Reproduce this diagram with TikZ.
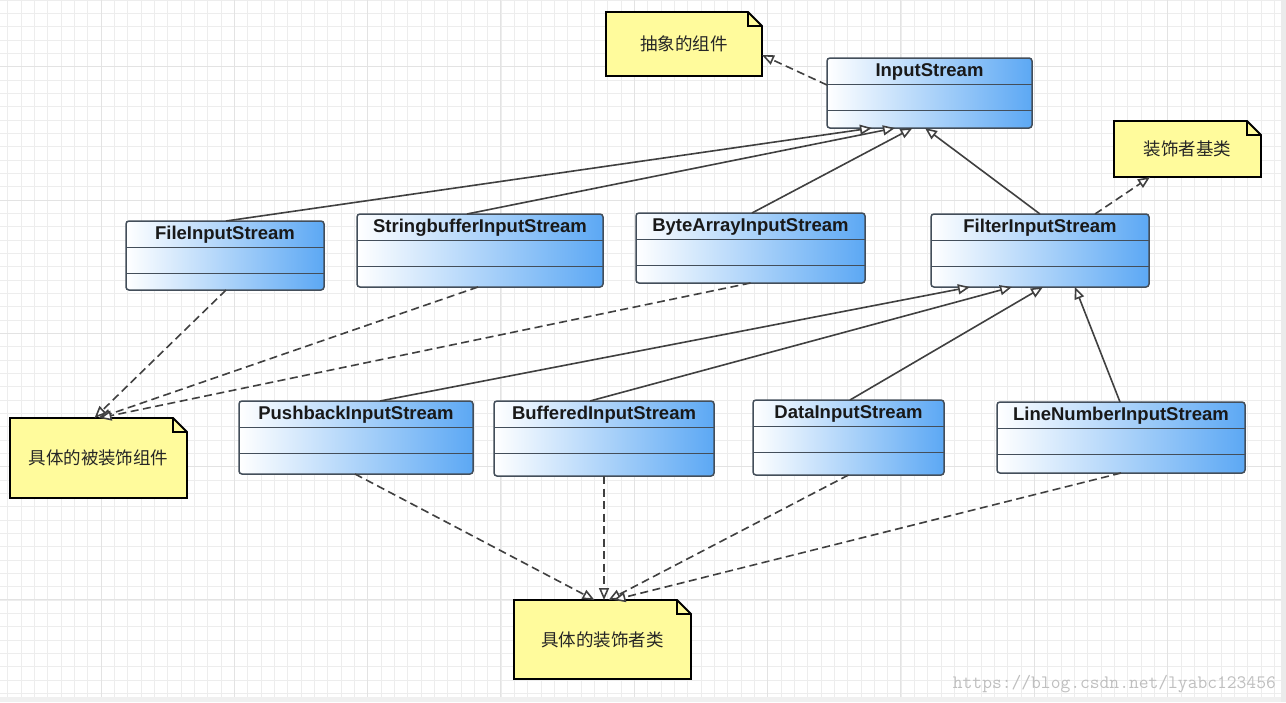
\documentclass[tikz,border=0pt]{standalone}
\usepackage{fontspec}
\setmainfont{Liberation Sans}
\newfontfamily\cjk{Noto Sans CJK SC}
\usetikzlibrary{arrows.meta,calc}

\pgfdeclarelayer{gridlayer}
\pgfdeclarelayer{notelayer}
\pgfsetlayers{gridlayer,notelayer,main}

\definecolor{umlblue}{HTML}{5CA8F4}
\definecolor{umledge}{HTML}{434E5A}
\definecolor{notefill}{HTML}{FFFB9C}
\definecolor{linkgray}{HTML}{404040}
\definecolor{gridminor}{HTML}{EDEDED}
\definecolor{gridmajor}{HTML}{E3E3E3}

\tikzset{
  umlbox/.style={draw=umledge, line width=1.5pt, rounded corners=3pt,
    left color=white, right color=umlblue, inner sep=0pt, outer sep=0pt},
  umlname/.style={font=\fontsize{18.5}{20}\selectfont\bfseries, text=black!90, inner sep=0pt},
  umlsep/.style={draw=umledge, line width=1.4pt},
  notebox/.style={inner sep=0pt, outer sep=0pt, font=\cjk\fontsize{17.5}{20}\selectfont, text=black!85},
  noteline/.style={draw=black, line width=1.8pt, fill=notefill, line join=miter},
  inherit/.style={draw=linkgray, line width=1.6pt,
    -{Triangle[open, length=12pt, width=10pt, fill=white]}},
  realize/.style={inherit, dash pattern=on 8pt off 4.5pt},
  gridthin/.style={draw=gridminor, line width=0.8pt},
  gridthick/.style={draw=gridmajor, line width=1pt},
}

% class box: name, left, top, right, bottom, label
\newcommand{\umlclass}[6]{%
  \node[umlbox, minimum width={(#4)-(#2)}, minimum height={(#5)-(#3)}]
    (#1) at ({((#2)+(#4))/2},{((#3)+(#5))/2}) {};
  \node[umlname] (#1-name) at ([yshift=-13.5pt]#1.north) {#6};
  \draw[umlsep] ([yshift=-26.5pt]#1.north west) -- ([yshift=-26.5pt]#1.north east);
  \draw[umlsep] ([yshift=-52.5pt]#1.north west) -- ([yshift=-52.5pt]#1.north east);
}

% note with folded corner: name, left, top, right, bottom, text
\newcommand{\umlnote}[6]{%
  \node[notebox, minimum width={(#4)-(#2)}, minimum height={(#5)-(#3)}]
    (#1) at ({((#2)+(#4))/2},{((#3)+(#5))/2}) {#6};
  \begin{pgfonlayer}{notelayer}
    \draw[noteline] (#1.south west) -- (#1.north west) -- ([xshift=-14pt]#1.north east)
      -- ([yshift=-14pt]#1.north east) -- (#1.south east) -- cycle;
    \draw[noteline, fill=none] ([xshift=-14pt]#1.north east) |- ([yshift=-14pt]#1.north east);
  \end{pgfonlayer}
}

\begin{document}
\begin{tikzpicture}[x=1pt, y=-1pt]
\useasboundingbox (0,0) rectangle (1286,702);

% squared paper background
\begin{pgfonlayer}{gridlayer}
  \fill[white] (0,0) rectangle (1286,702);
  \foreach \i in {0,...,95} { \draw[gridthin] ({7.7+13.333*\i},0) -- ++(0,702); }
  \foreach \j in {0,...,52} { \draw[gridthin] (0,{13.333*\j}) -- ++(1286,0); }
  \foreach \i in {0,...,9} { \draw[gridthick] ({101+133.33*\i},0) -- ++(0,702); }
  \foreach \j in {0,...,4} { \draw[gridthick] (0,{66.67+133.33*\j}) -- ++(1286,0); }
  \fill[black!8] (1281,0) rectangle (1286,702);
  \fill[black!6] (0,697) rectangle (1281,702);
\end{pgfonlayer}

% classes
\umlclass{input}{827}{58}{1032}{128}{InputStream}
\umlclass{file}{126}{221}{324}{290}{FileInputStream}
\umlclass{strbuf}{357}{214}{603}{287}{StringbufferInputStream}
\umlclass{bytearr}{636}{213}{865}{283}{ByteArrayInputStream}
\umlclass{filter}{931}{214}{1149}{287}{FilterInputStream}
\umlclass{pushback}{239}{401}{473}{474}{PushbackInputStream}
\umlclass{buffered}{494}{401}{714}{476}{BufferedInputStream}
\umlclass{data}{753}{400}{944}{475}{DataInputStream}
\umlclass{linenum}{997}{402}{1245}{473}{LineNumberInputStream}

% notes
\umlnote{abstract}{606}{12}{762}{76}{抽象的组件}
\umlnote{decobase}{1114}{121}{1261}{177}{装饰者基类}
\umlnote{concrete}{10}{418}{187}{498}{具体的被装饰组件}
\umlnote{decorators}{514}{600}{691}{679}{具体的装饰者类}

% generalisation towards InputStream
\draw[inherit] ([xshift=1pt]file.north) -- ([xshift=-57.5pt]input.south);
\draw[inherit] ([xshift=-13pt]strbuf.north) -- ([xshift=-34.5pt]input.south);
\draw[inherit] ([xshift=1.5pt]bytearr.north) -- ([xshift=-17pt]input.south);
\draw[inherit] (filter.north) -- ([xshift=-4.5pt]input.south);

% generalisation towards FilterInputStream
\draw[inherit] ([xshift=24pt]pushback.north) -- ([xshift=-70pt]filter.south);
\draw[inherit] ([xshift=-14pt]buffered.north) -- ([xshift=-28pt]filter.south);
\draw[inherit] ([xshift=1.5pt]data.north) -- ([xshift=3pt]filter.south);
\draw[inherit] ([xshift=-1pt]linenum.north) -- ([xshift=35pt]filter.south);

% links to notes
\draw[realize] ([yshift=-27pt]input.north west) -- ([yshift=-11pt]abstract.east);
\draw[realize] ([xshift=55pt]filter.north) -- ([xshift=-37.5pt]decobase.south);
\draw[realize] ([xshift=1pt]file.south) -- ([xshift=-4pt]concrete.north);
\draw[realize] ([xshift=-2pt]strbuf.south) -- (concrete.north);
\draw[realize] (bytearr.south) -- ([xshift=1pt]concrete.north);
\draw[realize] ([xshift=-1pt]pushback.south) -- ([xshift=-8pt]decorators.north);
\draw[realize] (buffered.south) -- ([xshift=1.5pt]decorators.north);
\draw[realize] (data.south) -- ([xshift=6pt]decorators.north);
\draw[realize] (linenum.south) -- ([xshift=11pt]decorators.north);

% watermark
\node[font=\ttfamily\fontsize{19}{20}\selectfont, text=black!25, anchor=base east, inner sep=0pt]
  (mark) at (1276,688) {https://blog.csdn.net/lyabc123456};
\end{tikzpicture}
\end{document}
